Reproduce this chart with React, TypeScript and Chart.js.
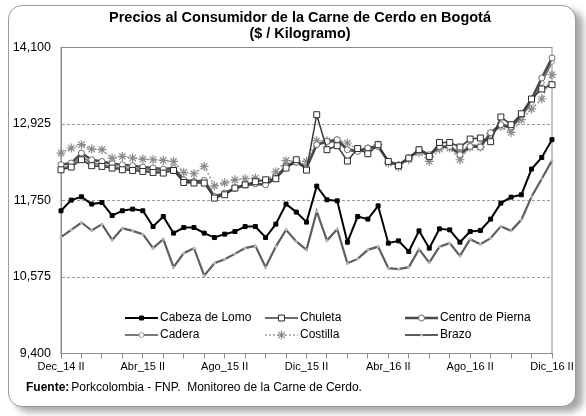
import React, { useEffect, useRef } from 'react';
import { Chart, registerables } from 'chart.js';
import * as helpers from 'chart.js/helpers';
Chart.register(...registerables);

const monthNames = ['Ene', 'Feb', 'Mar', 'Abr', 'May', 'Jun', 'Jul', 'Ago', 'Sep', 'Oct', 'Nov', 'Dic'];
const categories: string[] = ['Dec_14 II'];
for (const yy of ['15', '16']) {
  for (const m of monthNames) {
    categories.push(`${m}_${yy} I`);
    categories.push(`${m}_${yy} II`);
  }
}
const shownTickIndices = [0, 8, 16, 24, 32, 40, 48];
const yTicks = [9400, 10575, 11750, 12925, 14100];

const cabezaDeLomo = [11592, 11756, 11807, 11695, 11719, 11519, 11592, 11618, 11592, 11350, 11504, 11249, 11335, 11335, 11249, 11181, 11233, 11273, 11350, 11350, 11181, 11387, 11695, 11572, 11418, 11971, 11761, 11745, 11110, 11504, 11464, 11668, 11095, 11130, 10966, 11284, 11018, 11315, 11299, 11110, 11273, 11289, 11464, 11710, 11802, 11838, 12233, 12411, 12684];
const chuleta = [12222, 12264, 12376, 12284, 12273, 12248, 12222, 12211, 12196, 12181, 12171, 12211, 12027, 12018, 12018, 11787, 11838, 11941, 11991, 12038, 12068, 12084, 12248, 12376, 12217, 13068, 12530, 12591, 12356, 12548, 12468, 12607, 12350, 12284, 12402, 12530, 12427, 12642, 12642, 12571, 12694, 12710, 12653, 13033, 12914, 13083, 13309, 13463, 13529];
const centroDePierna = [12299, 12325, 12479, 12376, 12350, 12314, 12299, 12284, 12264, 12248, 12233, 12248, 12068, 12042, 12058, 11811, 11864, 11941, 11991, 12007, 11991, 12094, 12276, 12337, 12248, 12607, 12657, 12684, 12530, 12504, 12556, 12580, 12350, 12299, 12402, 12530, 12453, 12580, 12580, 12453, 12580, 12571, 12791, 12914, 12879, 13068, 13309, 13632, 13940];
const cadera = [12240, 12290, 12420, 12330, 12300, 12270, 12250, 12240, 12225, 12210, 12200, 12230, 12040, 12030, 12050, 11790, 11850, 11930, 11980, 12000, 12000, 12080, 12290, 12350, 12270, 12620, 12640, 12660, 12540, 12520, 12560, 12590, 12340, 12290, 12410, 12510, 12440, 12570, 12570, 12470, 12590, 12600, 12760, 12900, 12860, 13040, 13250, 13560, 13880];
const costilla = [12479, 12556, 12607, 12540, 12530, 12402, 12427, 12402, 12387, 12376, 12365, 12350, 12181, 12161, 12273, 11976, 12022, 12068, 12084, 12094, 12042, 12191, 12361, 12350, 12350, 12668, 12668, 12668, 12633, 12530, 12545, 12607, 12325, 12264, 12376, 12488, 12350, 12540, 12556, 12376, 12571, 12571, 12776, 12888, 12796, 12991, 13156, 13309, 13683];
const brazo = [11187, 11299, 11412, 11289, 11387, 11145, 11325, 11284, 11233, 11018, 11156, 10726, 10941, 11018, 10596, 10787, 10849, 10930, 11018, 11053, 10726, 11042, 11299, 11122, 10992, 11581, 11135, 11310, 10787, 10853, 10992, 11042, 10710, 10695, 10726, 11002, 10796, 11042, 11095, 10899, 11156, 11079, 11172, 11353, 11284, 11453, 11807, 12084, 12365];

const FONT = 'Liberation Sans, Arial, sans-serif';

const datasets: any[] = [
  {
    label: 'Cabeza de Lomo', data: cabezaDeLomo, borderColor: '#000000', borderWidth: 2,
    pointStyle: 'rect', pointRadius: 2.8, pointBackgroundColor: '#000000', pointBorderColor: '#000000', pointBorderWidth: 1,
    order: 1,
  },
  {
    label: 'Chuleta', data: chuleta, borderColor: '#3a3a3a', borderWidth: 1.5,
    pointStyle: 'rect', pointRadius: 4.2, pointBackgroundColor: '#ffffff', pointBorderColor: '#2a2a2a', pointBorderWidth: 1,
    order: 2,
  },
  {
    label: 'Centro de Pierna', data: centroDePierna, borderColor: '#4a4a4a', borderWidth: 2.5,
    pointStyle: 'circle', pointRadius: 3, pointBackgroundColor: '#ffffff', pointBorderColor: '#6a6a6a', pointBorderWidth: 1,
    order: 3,
  },
  {
    label: 'Cadera', data: cadera, borderColor: '#7a7a7a', borderWidth: 2,
    pointStyle: 'circle', pointRadius: 2.5, pointBackgroundColor: '#ffffff', pointBorderColor: '#9a9a9a', pointBorderWidth: 1,
    order: 4,
  },
  {
    label: 'Costilla', data: costilla, borderColor: '#9a9a9a', borderWidth: 1.5, borderDash: [2, 2],
    pointStyle: 'star', pointRadius: 4.5, pointBackgroundColor: '#ffffff', pointBorderColor: '#8a8a8a', pointBorderWidth: 1.2,
    order: 5,
  },
  {
    label: 'Brazo', data: brazo, borderColor: '#5e5e5e', borderWidth: 2.2,
    pointStyle: 'circle', pointRadius: 1.5, pointBackgroundColor: '#b8b8b8', pointBorderColor: '#b8b8b8', pointBorderWidth: 0,
    order: 6,
  },
].map((d) => ({ ...d, fill: false, tension: 0, clip: false }));

const legendCols = [125, 265, 405];
const legendRows = [318, 335];

function fitText(ctx: CanvasRenderingContext2D, text: string, x: number, y: number, width: number) {
  const w = ctx.measureText(text).width;
  const sx = width / w;
  ctx.save();
  ctx.translate(x, y);
  ctx.scale(sx, 1);
  ctx.fillText(text, 0, 0);
  ctx.restore();
}

const decorPlugin = {
  id: 'decor',
  beforeDatasetsDraw(chart: any) {
    const { ctx, chartArea: a } = chart;
    ctx.save();
    ctx.setLineDash([]);
    ctx.strokeStyle = '#8c8c8c';
    ctx.lineWidth = 1;
    ctx.strokeRect(a.left, a.top, a.right - a.left, a.bottom - a.top);
    ctx.restore();
  },
  afterDraw(chart: any) {
    const ctx: CanvasRenderingContext2D = chart.ctx;
    ctx.save();
    ctx.fillStyle = '#000';
    ctx.textBaseline = 'middle';
    ctx.textAlign = 'center';
    ctx.font = `bold 15px ${FONT}`;
    fitText(ctx, 'Precios al Consumidor de la Carne de Cerdo en Bogotá', 300, 18, 382);
    fitText(ctx, '($ / Kilogramo)', 300, 34, 101);

    chart.data.datasets.forEach((ds: any, i: number) => {
      const x = legendCols[i % 3];
      const y = legendRows[Math.floor(i / 3)];
      ctx.save();
      ctx.strokeStyle = ds.borderColor;
      ctx.lineWidth = ds.borderWidth;
      ctx.setLineDash(ds.borderDash || []);
      ctx.beginPath();
      ctx.moveTo(x, y);
      ctx.lineTo(x + 33, y);
      ctx.stroke();
      ctx.setLineDash([]);
      ctx.fillStyle = ds.pointBackgroundColor;
      ctx.strokeStyle = ds.pointBorderColor;
      ctx.lineWidth = ds.pointBorderWidth;
      helpers.drawPoint(ctx, { pointStyle: ds.pointStyle, radius: ds.pointRadius, borderWidth: ds.pointBorderWidth, rotation: 0 } as any, x + 16.5, y);
      ctx.restore();
      ctx.textAlign = 'left';
      ctx.fillStyle = '#000';
      ctx.font = `12px ${FONT}`;
      ctx.fillText(ds.label, x + 35, y);
    });

    ctx.textAlign = 'left';
    ctx.font = `bold 12px ${FONT}`;
    ctx.fillText('Fuente:', 26, 388);
    const bw = ctx.measureText('Fuente:').width;
    ctx.font = `12px ${FONT}`;
    ctx.fillText('Porkcolombia - FNP.  Monitoreo de la Carne de Cerdo.', 26 + bw + 2, 388);
    ctx.restore();
  },
};

export default function App() {
  const ref = useRef<HTMLCanvasElement>(null);
  useEffect(() => {
    const chart = new Chart(ref.current as HTMLCanvasElement, {
      type: 'line',
      data: { labels: categories, datasets },
      options: {
        animation: false,
        responsive: false,
        maintainAspectRatio: false,
        devicePixelRatio: 1,
        layout: { padding: { top: 47.5, left: 8, right: 34, bottom: 0 } },
        plugins: {
          legend: { display: false },
          title: { display: false },
          tooltip: { enabled: false },
        },
        scales: {
          x: {
            type: 'category',
            offset: false,
            grid: {
              drawOnChartArea: false,
              tickLength: 5,
              color: (c: any) => (c.index % 2 === 0 ? '#8c8c8c' : 'rgba(0,0,0,0)'),
            },
            border: { color: '#8c8c8c' },
            ticks: {
              autoSkip: false,
              maxRotation: 0,
              minRotation: 0,
              padding: 2,
              color: '#000',
              font: { family: FONT, size: 11 },
              callback: (_v: any, i: number) => (shownTickIndices.includes(i) ? categories[i] : ''),
            },
            afterFit: (s: any) => { s.height = 62.5; },
          },
          y: {
            min: 9400,
            max: 14100,
            afterBuildTicks: (s: any) => { s.ticks = yTicks.map((v) => ({ value: v })); },
            grid: {
              drawTicks: false,
              color: (c: any) => (c.tick && (c.tick.value === 9400 || c.tick.value === 14100) ? 'rgba(0,0,0,0)' : '#9a9a9a'),
            },
            border: { color: '#8c8c8c', dash: [3, 2] },
            ticks: {
              padding: 10,
              color: '#000',
              font: { family: FONT, size: 12.5 },
              callback: (v: any) => Number(v).toLocaleString('en-US'),
            },
            afterFit: (s: any) => { s.width = 53; },
          },
        },
      },
      plugins: [decorPlugin],
    } as any);
    return () => chart.destroy();
  }, []);
  return (
    <div style={{ position: 'absolute', left: 0, top: 0, width: 586, height: 416, background: '#fff' }}>
      <div style={{ position: 'absolute', left: 8, top: 5, width: 566, height: 400, border: '1px solid #9a9a9a', borderRadius: 14, boxShadow: '7px 5px 7px rgba(0,0,0,0.35)', background: '#fff' }} />
      <canvas ref={ref} width={586} height={416} style={{ position: 'absolute', left: 0, top: 0, width: 586, height: 416 }} />
    </div>
  );
}
